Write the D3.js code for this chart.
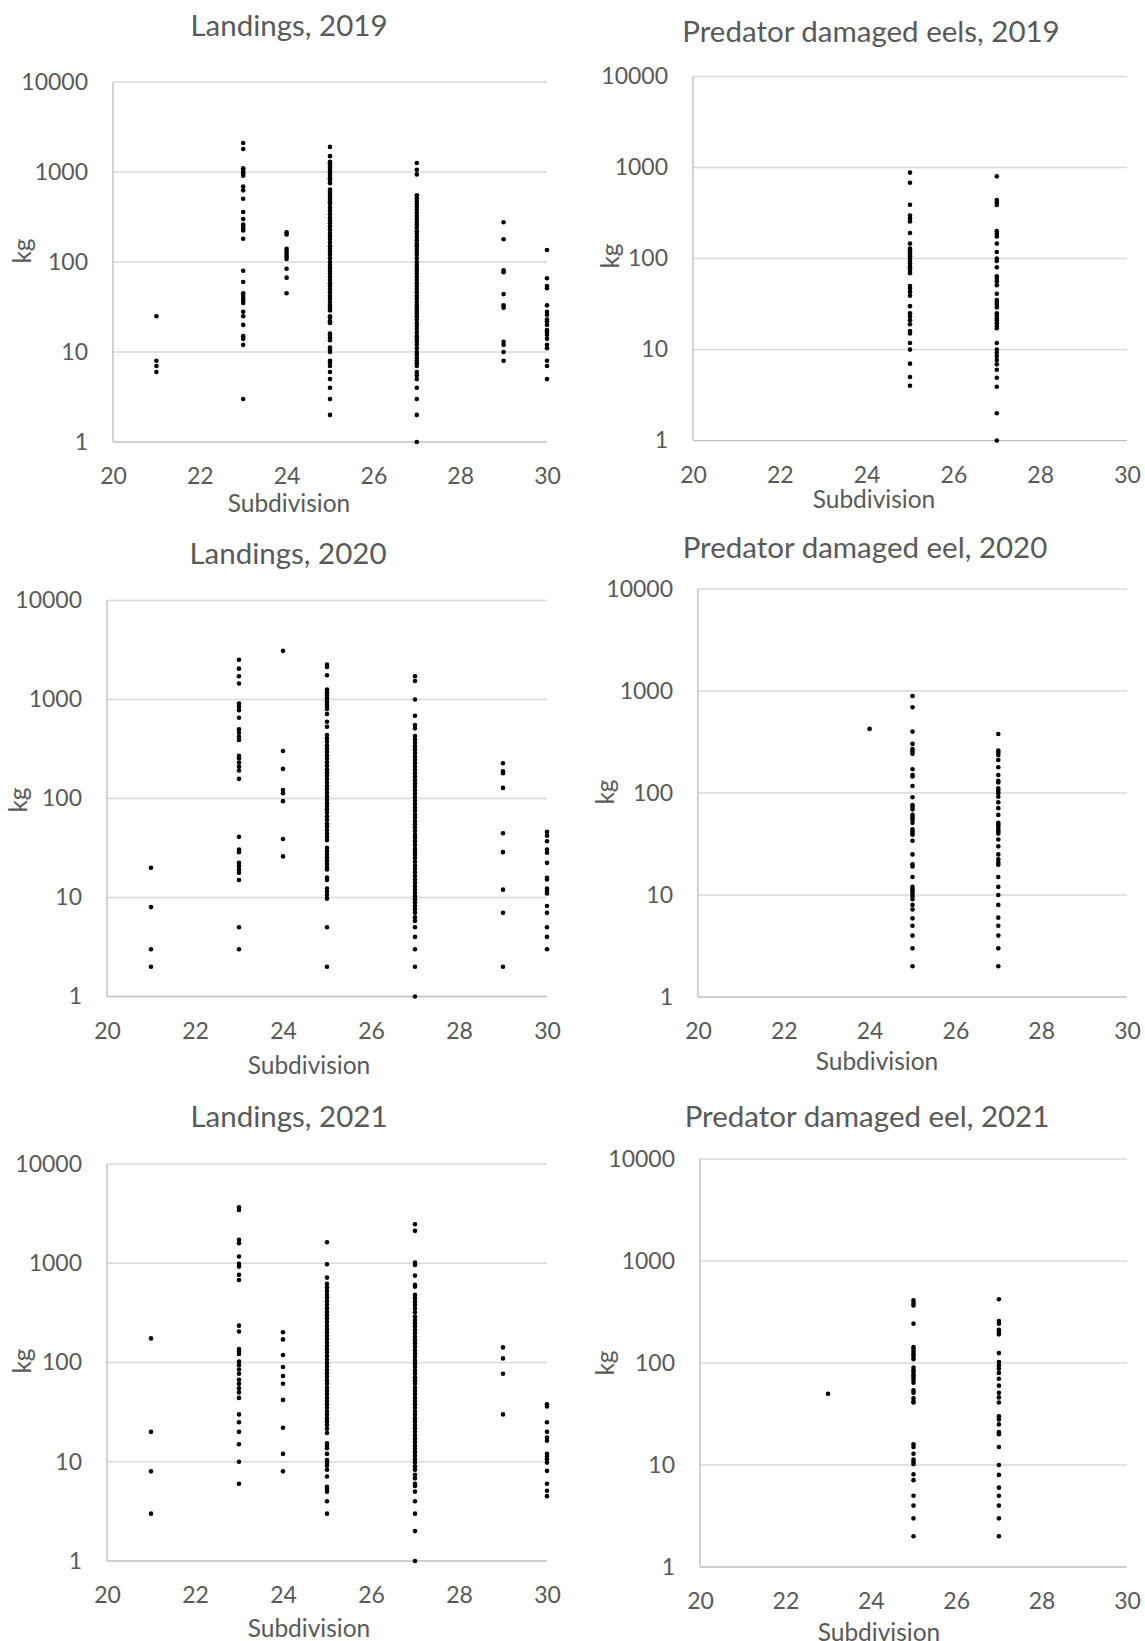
<!DOCTYPE html>
<html>
<head>
<meta charset="utf-8">
<title>Eel landings and predator damage by subdivision</title>
<script src="https://cdn.jsdelivr.net/npm/d3@7"></script>
<style>
  body { margin: 0; background: #fff; }
  svg text { font-family: Lato, "Open Sans", sans-serif; fill: #595959; }
</style>
</head>
<body>
<div class="visHolder"></div>
<script>
// values (kg per record, log axis)
var titles = [
  "Landings, 2019",
  "Predator damaged eels, 2019",
  "Landings, 2020",
  "Predator damaged eel, 2020",
  "Landings, 2021",
  "Predator damaged eel, 2021"
];
var xTicks = [20, 22, 24, 26, 28, 30];
var yTicks = [1, 10, 100, 1000, 10000];
var xTitle = "Subdivision";
var yTitle = "kg";

// Landings 2019
var land2019Sub = [21, 23, 24, 25, 27, 29, 30];
var land2019Kg = [
  [25, 8, 7, 6],
  [2100, 1800, 1100, 1060, 1000, 960, 910, 690, 625, 505, 360, 300, 260, 248, 235, 224, 181,
   80, 60, 45, 42, 39, 37, 35, 28, 25, 20, 15, 14, 12, 3],
  [214, 202, 140, 131, 123, 115, 108, 84, 67, 45],
  [1900, 1500, 1300, 1250, 1180, 1120, 1060, 1000, 950, 900, 850, 800, 750, 640, 600, 560, 520,
   490, 460, 440, 400, 370, 340, 310, 290, 270, 250, 230, 210, 195, 180, 165, 150, 140, 130, 120,
   110, 100, 93, 86, 80, 74, 68, 63, 58, 54, 50, 46, 42, 39, 36, 33, 31, 29, 25, 24, 22, 21, 16,
   15.5, 14.5, 13.5, 11.2, 10.6, 10, 8, 7.6, 7, 6, 5, 4, 3, 2],
  [1260, 1060, 940, 550, 510, 470, 440, 410, 380, 350, 325, 300, 280, 260, 240, 220, 205, 190,
   175, 160, 150, 140, 130, 120, 110, 100, 93, 86, 80, 74, 68, 63, 58, 54, 50, 46, 42, 39, 36,
   33, 31, 29, 27, 25, 23, 21, 19.5, 18, 16.5, 15, 14, 13, 12, 11, 10, 9.3, 8.6, 8, 7.5, 7, 6,
   5.5, 5, 4, 3, 2, 1],
  [277, 179, 81, 77, 44, 33, 31, 13, 12, 10, 8],
  [136, 66, 54, 51, 33, 28, 26, 23, 22, 20, 17.5, 16.5, 15.5, 14, 12, 11, 8, 7, 5]
];

// Predator damaged eels 2019
var pred2019Sub = [25, 27];
var pred2019Kg = [
  [880, 680, 390, 297, 278, 256, 191, 146, 129, 123, 118, 111, 106, 100, 94, 88, 82, 78, 73, 69,
   50, 47, 43, 39, 30, 25, 23, 21, 19, 16, 15, 11.8, 10, 7, 5, 4],
  [800, 440, 415, 388, 200, 187, 175, 146, 118, 100, 94, 80, 64, 60, 56, 51, 41, 35, 33, 31, 29,
   25, 23.5, 22, 21, 19.5, 18.3, 17.2, 11.8, 10, 9.2, 8.5, 7.7, 6.9, 6, 4.9, 3.9, 2, 1]
];

// Landings 2020
var land2020Sub = [21, 23, 24, 25, 27, 29, 30];
var land2020Kg = [
  [20, 8, 3, 2],
  [2520, 2050, 1720, 1450, 910, 845, 780, 655, 500, 462, 420, 390, 270, 255, 231, 210, 192, 158,
   41, 30.5, 28.7, 22.4, 20.8, 19.2, 17.8, 15, 5, 3],
  [3100, 302, 199, 122, 113, 94, 39, 26],
  [2250, 2130, 1760, 1260, 1180, 1100, 1030, 960, 900, 850, 800, 713, 596, 531, 438, 405, 375,
   345, 320, 295, 272, 252, 232, 215, 198, 183, 170, 157, 145, 134, 124, 114, 105, 97, 90, 84,
   78, 72, 66, 61, 56, 52, 48, 44, 41, 38, 31.7, 29.5, 27.5, 25.5, 23.5, 21.8, 20.3, 19.2, 15.9,
   15, 12.3, 11.5, 10.6, 9.75, 5, 2],
  [1720, 1540, 1000, 685, 552, 511, 428, 395, 365, 338, 312, 288, 266, 246, 228, 210, 194, 180,
   166, 153, 142, 131, 121, 112, 103, 95, 88, 81, 75, 69, 64, 59, 55, 51, 47, 43, 40, 37, 34, 31,
   29, 27, 25, 23, 21, 19.5, 18, 16.5, 15.3, 14.1, 13, 12, 11.1, 10.3, 9.6, 8.9, 8.2, 7.6, 7, 6.3,
   5.8, 5, 4, 3, 2, 1],
  [227, 188, 180, 128, 44.6, 28.7, 12, 7, 2],
  [46, 42, 37, 30.5, 28.3, 22.4, 15.8, 15.2, 12.3, 11.6, 11, 8.2, 7, 5, 4, 3]
];

// Predator damaged eel 2020
var pred2020Sub = [24, 25, 27];
var pred2020Kg = [
  [425],
  [894, 692, 400, 303, 269, 255, 242, 171, 150, 145, 117, 91, 76, 73, 69, 61, 58, 55, 51, 44, 42,
   40, 39, 34, 25, 20, 19, 15, 12, 11.4, 10.8, 10.3, 9.7, 9.1, 8, 7.2, 5.9, 5, 4, 3, 2],
  [379, 261, 249, 236, 211, 179, 150, 132, 127, 111, 105, 99.6, 92, 81, 71, 61, 51, 49, 47, 44,
   42, 40, 35, 30, 25, 22.4, 20.8, 19.8, 15, 12, 10, 8, 6, 5, 4, 3, 2]
];

// Landings 2021
var land2021Sub = [21, 23, 24, 25, 27, 29, 30];
var land2021Kg = [
  [175, 20, 8, 3],
  [3660, 3440, 1720, 1590, 1170, 985, 925, 763, 679, 235, 205, 137, 129, 122, 102, 94, 85, 77,
   67, 61, 55, 50, 44, 30, 25, 20, 15, 10, 6],
  [202, 171, 119, 90, 73, 61, 42, 22, 12, 8],
  [1630, 977, 717, 619, 570, 525, 485, 448, 413, 381, 352, 325, 300, 277, 256, 236, 218, 201,
   186, 172, 159, 147, 136, 126, 116, 107, 99, 91, 84, 78, 72, 66, 61, 56, 52, 48, 44, 41, 38,
   35, 32, 30, 27.5, 25.5, 23.5, 21.5, 19.5, 15.3, 14.4, 13.7, 12, 10.4, 9.8, 9.1, 8.3, 7.1, 5.6,
   5.3, 5, 4, 3],
  [2470, 2120, 1016, 962, 751, 605, 582, 480, 445, 410, 380, 350, 320, 290, 268, 248, 230, 213,
   197, 182, 168, 156, 144, 133, 123, 114, 105, 97, 90, 83, 77, 71, 66, 61, 56, 52, 48, 44, 41,
   38, 35, 32, 30, 27.5, 25.5, 23.5, 21.7, 20, 18.5, 17.1, 15.8, 14.6, 13.5, 12.5, 11.5, 10.6,
   9.8, 9, 8.3, 7.4, 6.8, 6, 5.7, 5, 4, 3, 2, 1],
  [142, 110, 77, 30],
  [38, 36, 25, 20, 17.5, 16.3, 12, 11.3, 10.6, 9.8, 8.1, 6, 5.1, 4.5]
];

// Predator damaged eel 2021
var pred2021Sub = [23, 25, 27];
var pred2021Kg = [
  [50],
  [411, 387, 367, 243, 143, 135, 128, 122, 115, 109, 90, 85, 80, 76, 72, 68, 64, 54, 51, 45, 42,
   41, 16, 15, 12.9, 11.3, 10.7, 10.2, 8.1, 7.1, 5, 4, 3, 2],
  [421, 258, 243, 212, 201, 191, 125, 102, 95, 88, 80, 70, 60, 51, 46, 41, 30, 28, 25, 21, 20,
   15, 10, 8, 6, 5, 4, 3, 2]
];

var width = 1145,
  height = 1641;

// where each panel sits on the page
var panels = [
  { sub: land2019Sub, kg: land2019Kg, left: 113, right: 547, top: 82, bottom: 442,
    title: [289, 24], xlab: [289, 502], ylab: [21, 251] },
  { sub: pred2019Sub, kg: pred2019Kg, left: 693, right: 1127, top: 76.5, bottom: 440.6,
    title: [871, 30], xlab: [874, 498], ylab: [609, 256] },
  { sub: land2020Sub, kg: land2020Kg, left: 107, right: 547, top: 600.5, bottom: 996.5,
    title: [288, 552], xlab: [309, 1064], ylab: [17, 800] },
  { sub: pred2020Sub, kg: pred2020Kg, left: 698, right: 1127, top: 589, bottom: 997,
    title: [865, 546], xlab: [877, 1060], ylab: [604, 792] },
  { sub: land2021Sub, kg: land2021Kg, left: 107, right: 547, top: 1164, bottom: 1561,
    title: [289, 1115], xlab: [309, 1627], ylab: [21, 1361] },
  { sub: pred2021Sub, kg: pred2021Kg, left: 700, right: 1127, top: 1159, bottom: 1567,
    title: [867, 1115], xlab: [879, 1631], ylab: [604, 1363] }
];

var svg = d3
  .select(".visHolder")
  .append("svg")
  .attr("width", width)
  .attr("height", height);

panels.forEach(function (p, i) {
  var g = svg.append("g").attr("class", "panel");

  var xScale = d3.scaleLinear().domain([20, 30]).range([p.left, p.right]);
  var yScale = d3.scaleLog().domain([1, 10000]).range([p.bottom, p.top]);

  // horizontal gridlines
  g.selectAll("line.grid")
    .data(yTicks.slice(1))
    .enter()
    .append("line")
    .attr("class", "grid")
    .attr("x1", p.left)
    .attr("x2", p.right)
    .attr("y1", (d) => yScale(d))
    .attr("y2", (d) => yScale(d))
    .style("stroke", "#d9d9d9")
    .style("stroke-width", 1.4);

  // axis lines
  g.append("line")
    .attr("x1", p.left)
    .attr("x2", p.right)
    .attr("y1", yScale(1))
    .attr("y2", yScale(1))
    .style("stroke", "#bfbfbf")
    .style("stroke-width", 1.4);
  g.append("line")
    .attr("x1", p.left)
    .attr("x2", p.left)
    .attr("y1", yScale(1))
    .attr("y2", yScale(10000))
    .style("stroke", "#bfbfbf")
    .style("stroke-width", 1.4);

  var xAxis = d3.axisBottom(xScale).tickValues(xTicks).tickSize(0).tickPadding(26);
  var yAxis = d3
    .axisLeft(yScale)
    .tickValues(yTicks)
    .tickSize(0)
    .tickPadding(25)
    .tickFormat(d3.format("d"));

  var gx = g
    .append("g")
    .attr("transform", "translate(0," + p.bottom + ")")
    .call(xAxis);
  var gy = g
    .append("g")
    .attr("transform", "translate(" + p.left + ",0)")
    .call(yAxis);
  [gx, gy].forEach(function (a) {
    a.select(".domain").remove();
    a.selectAll("text")
      .style("font-size", "23px")
      .style("font-family", "Lato, sans-serif")
      .attr("fill", "#595959");
  });

  // titles
  g.append("text")
    .attr("x", p.title[0])
    .attr("y", p.title[1])
    .attr("text-anchor", "middle")
    .attr("dominant-baseline", "central")
    .style("font-size", "29.5px")
    .text(titles[i]);
  g.append("text")
    .attr("x", p.xlab[0])
    .attr("y", p.xlab[1])
    .attr("text-anchor", "middle")
    .attr("dominant-baseline", "central")
    .style("font-size", "24.5px")
    .text(xTitle);
  g.append("text")
    .attr("transform", "translate(" + p.ylab[0] + "," + p.ylab[1] + ") rotate(-90)")
    .attr("text-anchor", "middle")
    .attr("dominant-baseline", "central")
    .style("font-size", "24.5px")
    .text(yTitle);

  // flatten to points
  var pts = [];
  p.sub.forEach(function (s, j) {
    p.kg[j].forEach(function (v) {
      pts.push([s, v]);
    });
  });

  g.selectAll("circle")
    .data(pts)
    .enter()
    .append("circle")
    .attr("cx", (d) => xScale(d[0]))
    .attr("cy", (d) => yScale(d[1]))
    .attr("r", 2.3)
    .style("fill", "#000");
});
</script>
</body>
</html>
